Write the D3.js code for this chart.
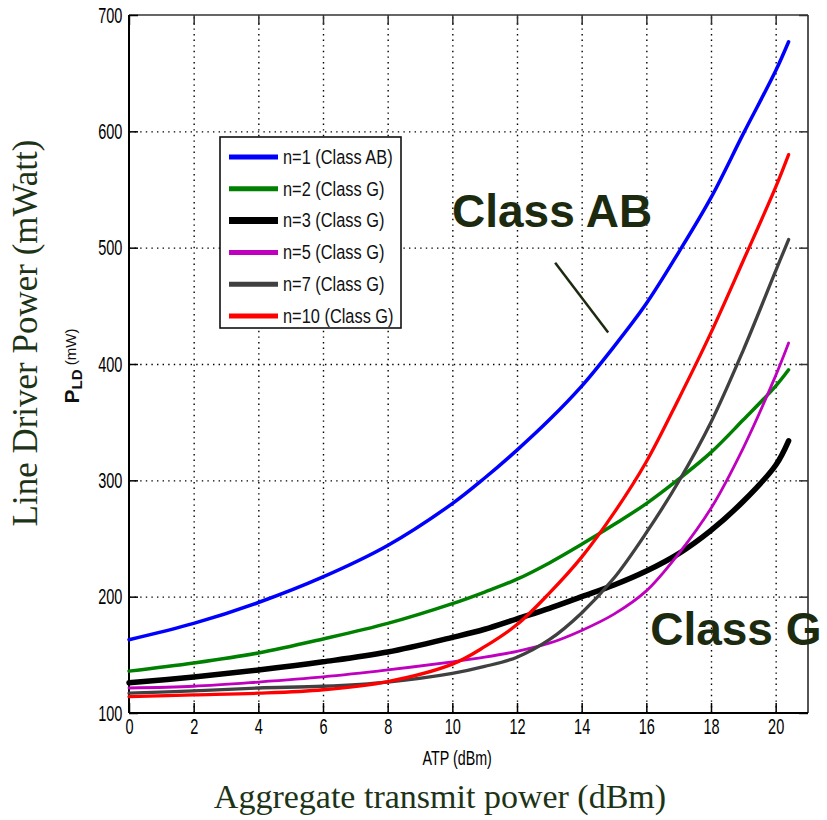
<!DOCTYPE html>
<html>
<head>
<meta charset="utf-8">
<script src="https://cdn.jsdelivr.net/npm/d3@7"></script>
<style>
  body { margin: 0; background: #fff; }
  svg { display: block; }
  .tick text { font-family: "Liberation Sans", Arial, sans-serif; }
</style>
</head>
<body>
<svg id="chart" width="827" height="820"></svg>
<script>
// ATP values (dBm) where curves were read
const atp = [0, 2, 4, 6, 8, 10, 11, 12, 13, 14, 15, 16, 17, 18, 19, 20, 20.4];

// line driver power (mW) for each configuration
const n1 = [163, 177, 195, 217, 244, 280, 302, 326, 352, 381, 415, 452, 496, 543, 598, 652, 677];
const n2 = [136, 143, 151.6, 163.6, 177, 194, 204, 215, 229, 245, 262, 280, 301, 324, 352, 381, 395];
const n3 = [126, 131, 137, 144, 152.4, 165, 172, 181, 190, 200, 210, 222, 237, 257, 282, 313, 334];
const n5 = [121.5, 123, 126.6, 131, 137, 144, 148, 153, 160, 171, 185, 205, 237, 276, 328, 390, 418];
const n7 = [117, 119, 121.5, 123, 126.6, 134, 140, 148, 163, 186, 216, 255, 299, 350, 412, 480, 507];
const n10 = [114, 115.5, 117, 120, 127, 142, 157, 176, 203, 234, 272, 316, 370, 427, 489, 552, 580];

const seriesNames = ['n=1 (Class AB)', 'n=2 (Class G)', 'n=3 (Class G)', 'n=5 (Class G)', 'n=7 (Class G)', 'n=10 (Class G)'];
const seriesValues = [n1, n2, n3, n5, n7, n10];
const seriesColors = ['#0000ff', '#008000', '#000000', '#bf00bf', '#404040', '#ff0000'];
const seriesWidths = [3.5, 3.5, 5.5, 2.8, 3.3, 3.3];

const xTicks = [0, 2, 4, 6, 8, 10, 12, 14, 16, 18, 20];
const yTicks = [100, 200, 300, 400, 500, 600, 700];

// annotation for the class AB curve, in data units
const abPointer = [[13.18, 487], [14.82, 427]];

const svg = d3.select('#chart');
const plotL = 129, plotR = 808, plotT = 15, plotB = 713;

const x = d3.scaleLinear().domain([0, 21]).range([plotL, plotR]);
const y = d3.scaleLinear().domain([100, 700]).range([plotB, plotT]);

// dotted grid
svg.append('g')
    .attr('transform', `translate(0,${plotB})`)
    .call(d3.axisBottom(x).tickValues(xTicks.slice(1)).tickSize(-(plotB - plotT)).tickFormat(''))
    .call(g => g.select('.domain').remove())
    .selectAll('line')
    .attr('stroke', '#000').attr('stroke-width', 1.4).attr('stroke-dasharray', '1.4,4.2');

svg.append('g')
    .attr('transform', `translate(${plotL},0)`)
    .call(d3.axisLeft(y).tickValues(yTicks.slice(1, -1)).tickSize(-(plotR - plotL)).tickFormat(''))
    .call(g => g.select('.domain').remove())
    .selectAll('line')
    .attr('stroke', '#000').attr('stroke-width', 1.4).attr('stroke-dasharray', '1.4,4.2');

// box border (top and right look lighter)
svg.append('line').attr('x1', plotL).attr('x2', plotR).attr('y1', plotT).attr('y2', plotT)
    .attr('stroke', '#666').attr('stroke-width', 2);
svg.append('line').attr('x1', plotR).attr('x2', plotR).attr('y1', plotT).attr('y2', plotB)
    .attr('stroke', '#555').attr('stroke-width', 2);

// inner ticks on top and right
svg.append('g')
    .attr('transform', `translate(0,${plotT})`)
    .call(d3.axisTop(x).tickValues(xTicks).tickSizeInner(-10).tickSizeOuter(0).tickFormat(''))
    .call(g => g.select('.domain').remove())
    .selectAll('line').attr('stroke', '#333').attr('stroke-width', 1.5);
svg.append('g')
    .attr('transform', `translate(${plotR},0)`)
    .call(d3.axisRight(y).tickValues(yTicks).tickSizeInner(-9).tickSizeOuter(0).tickFormat(''))
    .call(g => g.select('.domain').remove())
    .selectAll('line').attr('stroke', '#333').attr('stroke-width', 1.5);

// main axes
const xAxis = svg.append('g')
    .attr('transform', `translate(0,${plotB})`)
    .call(d3.axisBottom(x).tickValues(xTicks).tickSizeInner(-10).tickSizeOuter(0).tickPadding(5));
xAxis.select('.domain').attr('stroke', '#000').attr('stroke-width', 2).attr('d', `M${plotL},0H${plotR}`);
xAxis.selectAll('line').attr('stroke', '#000').attr('stroke-width', 1.5);
xAxis.selectAll('text')
    .attr('font-size', 22).attr('fill', '#000')
    .attr('transform', 'scale(0.66,1)');

const yAxis = svg.append('g')
    .attr('transform', `translate(${plotL},0)`)
    .call(d3.axisLeft(y).tickValues(yTicks).tickSizeInner(-9).tickSizeOuter(0).tickPadding(0));
yAxis.select('.domain').attr('stroke', '#000').attr('stroke-width', 2).attr('d', `M0,${plotT}V${plotB}`);
yAxis.selectAll('line').attr('stroke', '#000').attr('stroke-width', 1.5);
yAxis.selectAll('text')
    .attr('font-size', 22).attr('fill', '#000')
    .attr('x', -10)
    .attr('transform', 'scale(0.66,1)');

// curves
const line = d3.line()
    .x((d, i) => x(atp[i]))
    .y(d => y(d))
    .curve(d3.curveCatmullRom.alpha(0.5));

svg.append('g').selectAll('path')
    .data(seriesValues)
    .join('path')
    .attr('d', d => line(d))
    .attr('fill', 'none')
    .attr('stroke', (d, i) => seriesColors[i])
    .attr('stroke-width', (d, i) => seriesWidths[i])
    .attr('stroke-linejoin', 'round')
    .attr('stroke-linecap', 'round');

// legend
const legend = svg.append('g');
legend.append('rect')
    .attr('x', 220).attr('y', 137).attr('width', 181).attr('height', 191)
    .attr('fill', '#fff').attr('stroke', '#111').attr('stroke-width', 1.6);
const rows = legend.selectAll('g.row')
    .data(seriesNames)
    .join('g')
    .attr('class', 'row')
    .attr('transform', (d, i) => `translate(0,${157 + i * 31.8})`);
rows.append('line')
    .attr('x1', 229).attr('x2', 278)
    .attr('stroke', (d, i) => seriesColors[i])
    .attr('stroke-width', (d, i) => i === 2 ? 7 : 5);
rows.append('text')
    .attr('transform', 'translate(283,0) scale(0.84,1)')
    .attr('dy', '0.35em')
    .attr('font-family', '"Liberation Sans", Arial, sans-serif')
    .attr('font-size', 19.5)
    .attr('fill', '#111')
    .text(d => d);

// axis titles
svg.append('text')
    .attr('transform', `translate(${x(10.15)},765) scale(0.68,1)`)
    .attr('text-anchor', 'middle')
    .attr('font-family', '"Liberation Sans", Arial, sans-serif')
    .attr('font-size', 21)
    .attr('fill', '#000')
    .text('ATP (dBm)');

const pld = svg.append('text')
    .attr('transform', 'translate(79,366) rotate(-90)')
    .attr('text-anchor', 'middle')
    .attr('font-family', '"Liberation Sans", Arial, sans-serif')
    .attr('fill', '#111');
pld.append('tspan').attr('font-size', 21).attr('font-weight', 'bold').text('P');
pld.append('tspan').attr('font-size', 15).attr('font-weight', 'bold').attr('dy', 3).text('LD');
pld.append('tspan').attr('font-size', 15).attr('dy', -6).text(' (mW)');

svg.append('text')
    .attr('transform', 'translate(37,333) rotate(-90)')
    .attr('text-anchor', 'middle')
    .attr('font-family', '"Liberation Serif", "Times New Roman", serif')
    .attr('font-size', 35)
    .attr('fill', '#1d3317')
    .text('Line Driver Power (mWatt)');

svg.append('text')
    .attr('x', 440).attr('y', 808)
    .attr('text-anchor', 'middle')
    .attr('font-family', '"Liberation Serif", "Times New Roman", serif')
    .attr('font-size', 34)
    .attr('fill', '#1d3317')
    .text('Aggregate transmit power (dBm)');

// class annotations
svg.append('text')
    .attr('x', x(9.99)).attr('y', y(517.8))
    .attr('font-family', '"Liberation Sans", Arial, sans-serif')
    .attr('font-size', 46).attr('font-weight', 'bold')
    .attr('fill', '#1c2b0f')
    .text('Class AB');

svg.append('text')
    .attr('x', x(16.12)).attr('y', y(158.5))
    .attr('font-family', '"Liberation Sans", Arial, sans-serif')
    .attr('font-size', 46).attr('font-weight', 'bold')
    .attr('fill', '#1c2b0f')
    .text('Class G');

svg.append('line')
    .attr('x1', x(abPointer[0][0])).attr('y1', y(abPointer[0][1]))
    .attr('x2', x(abPointer[1][0])).attr('y2', y(abPointer[1][1]))
    .attr('stroke', '#1c2b0f').attr('stroke-width', 2.5);
</script>
</body>
</html>
